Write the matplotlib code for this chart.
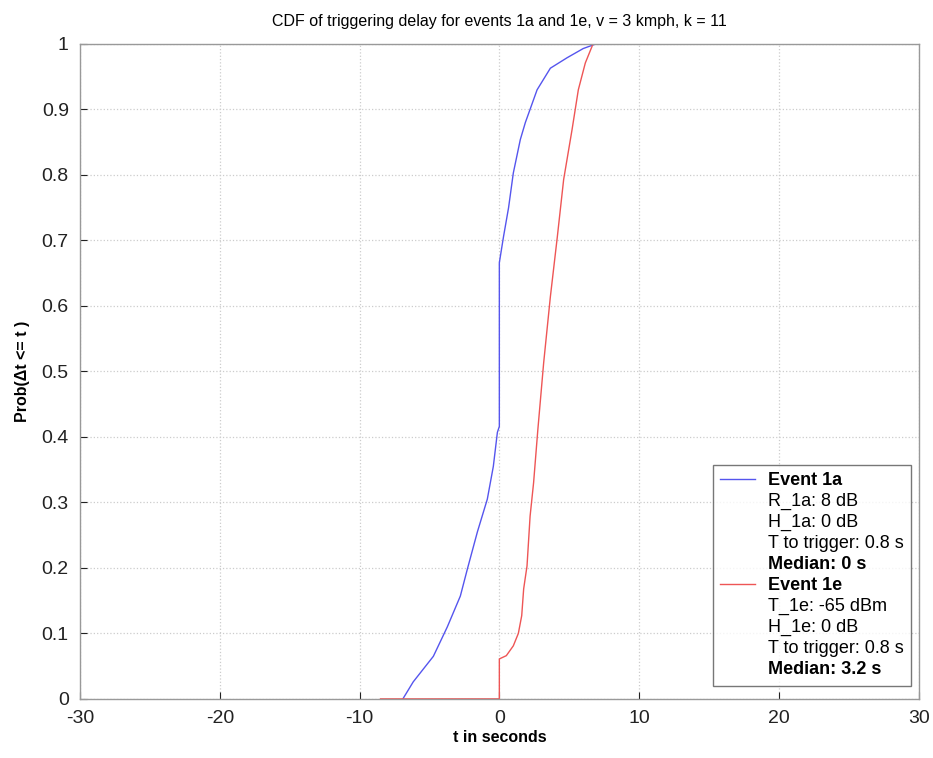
import matplotlib
matplotlib.use('Agg')
import matplotlib.pyplot as plt
from matplotlib.lines import Line2D

plt.rcParams.update({
    "font.family": ["Liberation Sans", "DejaVu Sans"],
    "axes.unicode_minus": False,
})

# Event 1a CDF (blue)
t_1a = [-6.9, -6.16, -4.72, -3.72, -2.79, -2.29, -1.57, -0.86, -0.43, -0.14, 0.0, 0.0,
        0.3, 0.66, 1.0, 1.5, 1.86, 2.7, 3.65, 4.85, 6.0, 6.9]
p_1a = [0.0, 0.026, 0.065, 0.11, 0.157, 0.198, 0.255, 0.305, 0.355, 0.407, 0.416, 0.666,
        0.706, 0.75, 0.803, 0.854, 0.88, 0.93, 0.963, 0.979, 0.993, 1.0]

# Event 1e CDF (red)
t_1e = [-8.5, 0.0, 0.0, 0.5, 1.0, 1.36, 1.6, 1.74, 1.98, 2.2, 2.45, 2.75, 3.17,
        3.65, 4.15, 4.6, 5.2, 5.65, 6.15, 6.7]
p_1e = [0.0, 0.0, 0.061, 0.066, 0.081, 0.10, 0.127, 0.168, 0.203, 0.279, 0.33, 0.41, 0.513,
        0.614, 0.706, 0.793, 0.869, 0.93, 0.971, 1.0]

xticks = [-30, -20, -10, 0, 10, 20, 30]
yticks = [0, 0.1, 0.2, 0.3, 0.4, 0.5, 0.6, 0.7, 0.8, 0.9, 1]
ytick_labels = ['0', '0.1', '0.2', '0.3', '0.4', '0.5', '0.6', '0.7', '0.8', '0.9', '1']

fig = plt.figure(figsize=(9.33, 7.58), dpi=100)
ax = fig.add_axes([0.0857, 0.078, 0.899, 0.864])

ax.plot(t_1a, p_1a, color='#5555ee', linewidth=1.0)
ax.plot(t_1e, p_1e, color='#ee5555', linewidth=1.0)

ax.set_xlim(-30, 30)
ax.set_ylim(0, 1)
ax.set_xticks(xticks)
ax.set_xticklabels([str(v) for v in xticks])
ax.set_yticks(yticks)
ax.set_yticklabels(ytick_labels)
ax.tick_params(direction='in', labelsize=14, colors='#222222', length=5, pad=8)
ax.grid(True, color='#cccccc', linestyle=':', linewidth=0.9)
ax.set_axisbelow(True)
for sp in ax.spines.values():
    sp.set_color('#999999')
    sp.set_linewidth(1.0)

ax.set_title('CDF of triggering delay for events 1a and 1e, v = 3 kmph, k = 11',
             fontsize=11.5, pad=13)
ax.set_xlabel('t in seconds', fontsize=11.5, fontweight='bold', labelpad=2)
ax.set_ylabel('Prob(\u0394t <= t )', fontsize=11.5, fontweight='bold', labelpad=8)

# legend with multi-line entries
blank = Line2D([], [], color='none')
handles = [Line2D([], [], color='#5555ee', lw=1.0), blank, blank, blank, blank,
           Line2D([], [], color='#ee5555', lw=1.0), blank, blank, blank, blank]
labels = ['Event 1a', 'R_1a: 8 dB', 'H_1a: 0 dB', 'T to trigger: 0.8 s', 'Median: 0 s',
          'Event 1e', 'T_1e: -65 dBm', 'H_1e: 0 dB', 'T to trigger: 0.8 s', 'Median: 3.2 s']
leg = ax.legend(handles, labels, loc='lower right', fontsize=13, frameon=True,
                fancybox=False, edgecolor='#555555', handlelength=1.9, handletextpad=0.75,
                labelspacing=0.22, borderpad=0.4, borderaxespad=0.3,
                bbox_to_anchor=(0.9975, 0.012))
leg.get_frame().set_linewidth(1.0)
for i, txt in enumerate(leg.get_texts()):
    if labels[i].startswith('Event') or labels[i].startswith('Median'):
        txt.set_fontweight('bold')

fig.savefig('out.png', dpi=100)
